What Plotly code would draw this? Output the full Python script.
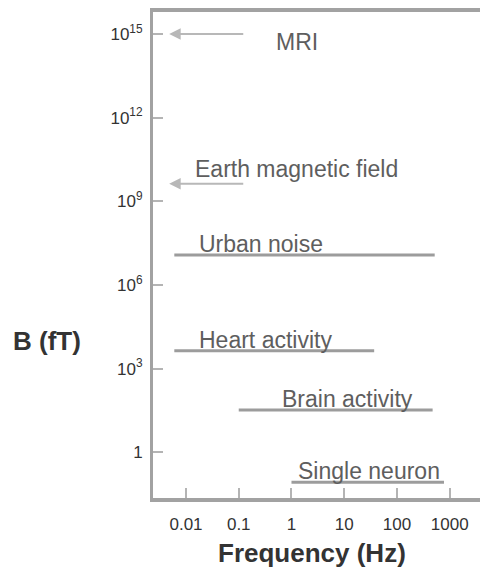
import math
import plotly.graph_objects as go

# Magnetic field sources drawn as horizontal frequency bands (Hz) at a field level (fT)
band_names = ["Urban noise", "Heart activity", "Brain activity", "Single neuron"]
band_f_low = [0.006, 0.006, 0.1, 1.0]
band_f_high = [520, 37, 475, 780]
band_field = [1.2e7, 4.4e3, 33, 0.084]

# Static fields pointed at with arrows (tail -> head frequency, field level)
arrow_names = ["MRI", "Earth magnetic field"]
arrow_f_tail = [0.13, 0.13]
arrow_f_head = [0.0048, 0.0048]
arrow_field = [1e15, 4.3e9]

# Axis ticks
x_tickvals = [0.01, 0.1, 1, 10, 100, 1000]
x_ticktext = ["0.01", "0.1", "1", "10", "100", "1000"]
y_tickvals = [1, 1e3, 1e6, 1e9, 1e12, 1e15]
y_ticktext = ["1", "10<sup>3</sup>", "10<sup>6</sup>", "10<sup>9</sup>", "10<sup>12</sup>", "10<sup>15</sup>"]

FONT = "Liberation Sans, Arial, Helvetica, sans-serif"
FRAME = "#a2a2a2"
BAND = "#9c9c9c"
ARROW = "#b8b8b8"
LABEL = "#5e5e5e"

fig = go.Figure()

for name, lo, hi, b in zip(band_names, band_f_low, band_f_high, band_field):
    fig.add_trace(go.Scatter(
        x=[lo, hi], y=[b, b], mode="lines", name=name,
        line=dict(color=BAND, width=3), hoverinfo="name",
    ))

# label offsets (pixels) relative to the start of each band / arrow head
band_label_shift = {"Urban noise": 23, "Heart activity": 23,
                    "Brain activity": 41, "Single neuron": 5}
arrow_label_shift = {"MRI": (105, -23), "Earth magnetic field": (24, 0)}

annotations = []
for name, lo, b in zip(band_names, band_f_low, band_field):
    annotations.append(dict(
        x=math.log10(lo), y=math.log10(b), xref="x", yref="y", text=name,
        showarrow=False, xanchor="left", yanchor="bottom",
        xshift=band_label_shift[name], yshift=-4,
        font=dict(family=FONT, size=23, color=LABEL),
    ))

for name, tail, head, b in zip(arrow_names, arrow_f_tail, arrow_f_head, arrow_field):
    annotations.append(dict(
        x=math.log10(head), y=math.log10(b), xref="x", yref="y",
        ax=math.log10(tail), ay=math.log10(b), axref="x", ayref="y",
        text="", showarrow=True, arrowhead=2, arrowsize=1.15, arrowwidth=2,
        arrowcolor=ARROW,
    ))
    dx, dy = arrow_label_shift[name]
    annotations.append(dict(
        x=math.log10(head), y=math.log10(b), xref="x", yref="y", text=name,
        showarrow=False, xanchor="left", yanchor="bottom", xshift=dx, yshift=dy,
        font=dict(family=FONT, size=23, color=LABEL),
    ))

annotations.append(dict(
    x=0.486, y=-0.113, xref="paper", yref="paper", text="<b>Frequency (Hz)</b>",
    showarrow=False, xanchor="center", yanchor="middle",
    font=dict(family=FONT, size=26, color="#333333"),
))
annotations.append(dict(
    x=-0.325, y=0.323, xref="paper", yref="paper", text="<b>B (fT)</b>",
    showarrow=False, xanchor="center", yanchor="middle",
    font=dict(family=FONT, size=26, color="#333333"),
))

fig.update_layout(
    width=480, height=571,
    margin=dict(l=153, r=0, t=12, b=73),
    paper_bgcolor="white", plot_bgcolor="white",
    showlegend=False,
    annotations=annotations,
    xaxis=dict(
        type="log", range=[-2.626, 3.575],
        tickvals=x_tickvals, ticktext=x_ticktext,
        ticks="inside", ticklen=10, tickwidth=1.5, tickcolor="#b4b4b4",
        ticklabelstandoff=8,
        showline=True, linewidth=4, linecolor=FRAME, mirror=True,
        showgrid=False, zeroline=False,
        tickfont=dict(family=FONT, size=17, color="#333333"),
    ),
    yaxis=dict(
        type="log", range=[-1.638, 15.789],
        tickvals=y_tickvals, ticktext=y_ticktext,
        ticks="inside", ticklen=10, tickwidth=1.5, tickcolor="#b4b4b4",
        ticklabelstandoff=4,
        showline=True, linewidth=3, linecolor=FRAME,
        showgrid=False, zeroline=False,
        tickfont=dict(family=FONT, size=17, color="#333333"),
    ),
)

fig.write_html("out.html")
